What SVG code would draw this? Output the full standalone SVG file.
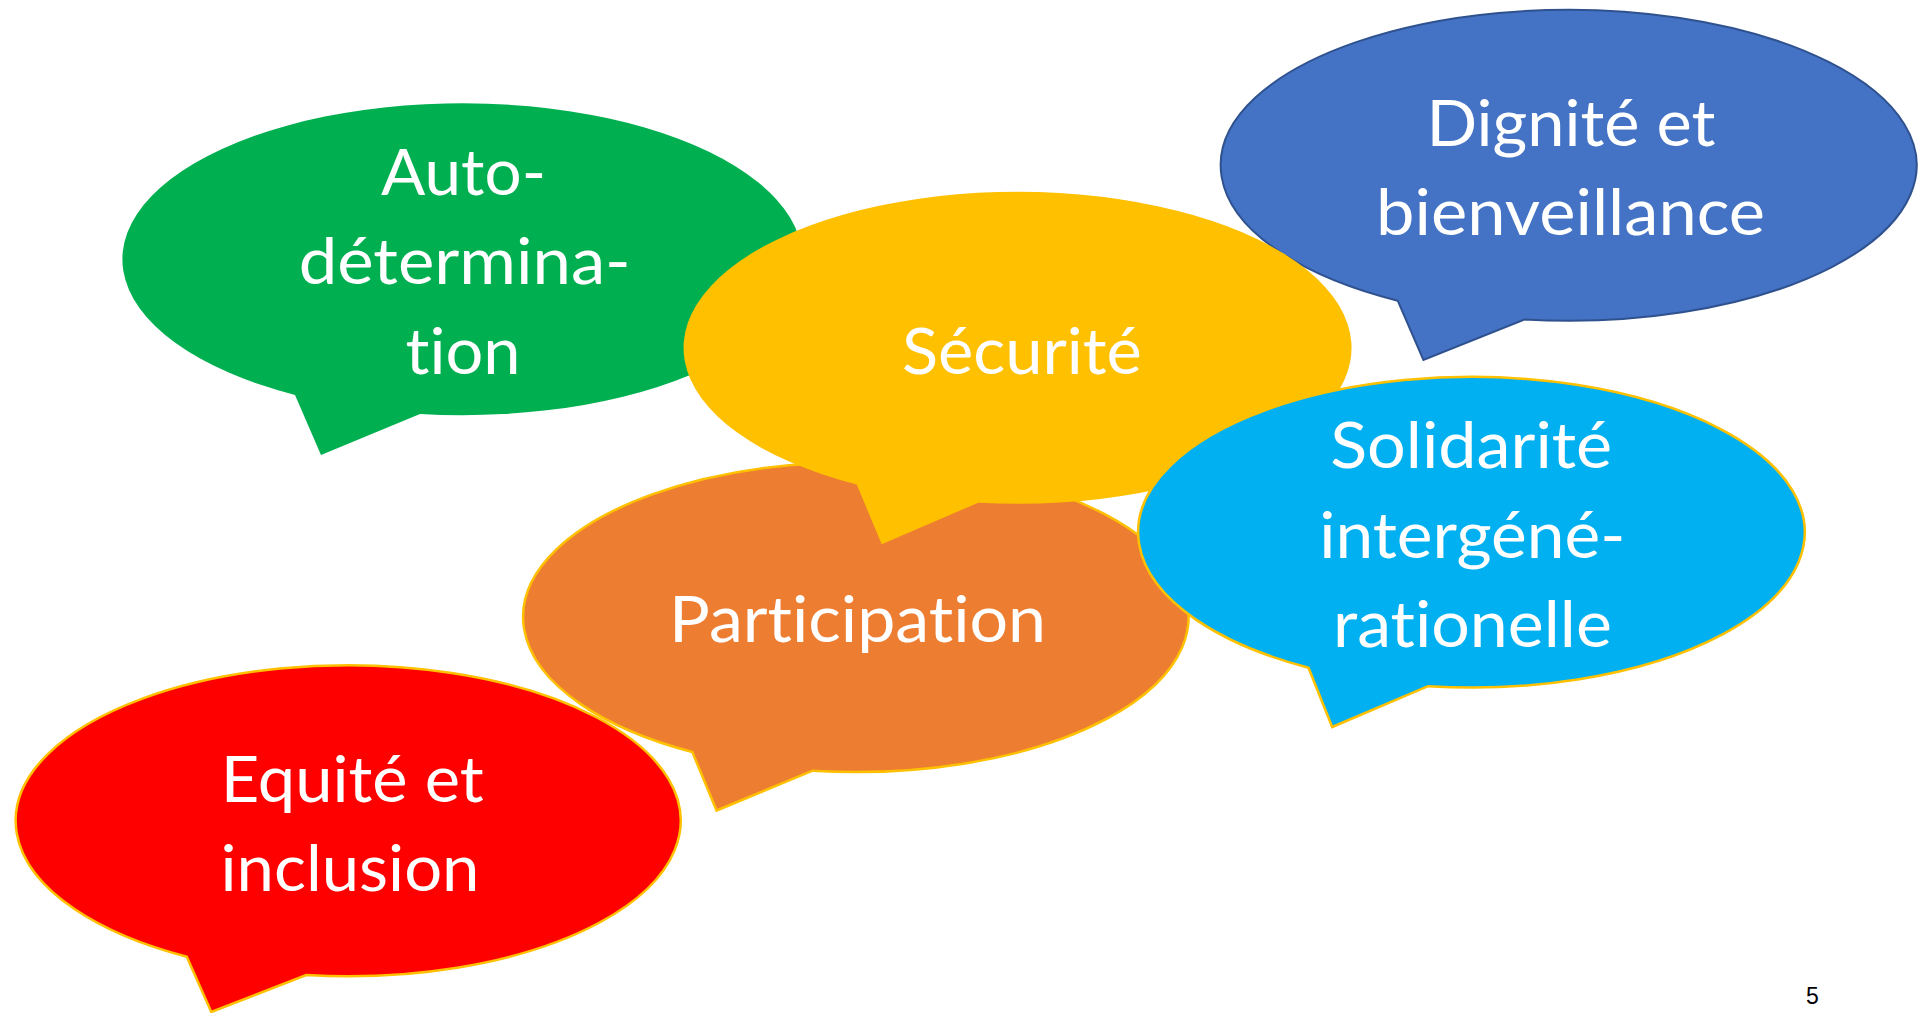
<svg xmlns="http://www.w3.org/2000/svg" width="1918" height="1013" viewBox="0 0 1918 1013">
<style>
.lbl{font-family:Lato,"Open Sans","Noto Sans",sans-serif;font-size:64px;fill:#FFFFFF;text-anchor:middle;font-variant-ligatures:none;font-feature-settings:"liga" 0,"clig" 0,"dlig" 0}
.ys{stroke:#FFC000;stroke-width:2.5}
.pg{font-family:"Liberation Sans",Arial,sans-serif;font-size:23px;fill:#000000}
</style>
<rect x="0" y="0" width="1918" height="1013" fill="#FFFFFF"/>
<g id="connectors"/>
<g id="node-autodetermination">
<path d="M295,395 L321,455 L420,414 A340,156 0 1 0 295,395 Z" fill="#00B050"/>
<text class="lbl" x="463.5" y="194.7" textLength="165" lengthAdjust="spacingAndGlyphs">Auto-</text>
<text class="lbl" x="464.7" y="284.3" textLength="332" lengthAdjust="spacingAndGlyphs">détermina-</text>
<text class="lbl" x="463" y="374" textLength="115" lengthAdjust="spacingAndGlyphs">tion</text>
</g>
<g id="node-dignite">
<path d="M1397.7,300.7 L1423.4,360 L1524.4,319.5 A348,155.5 0 1 0 1397.7,300.7 Z" fill="#4472C4" stroke="#2F528F" stroke-width="2"/>
<text class="lbl" x="1571" y="145.7" textLength="289" lengthAdjust="spacingAndGlyphs">Dignité et</text>
<text class="lbl" x="1570.6" y="235" textLength="389" lengthAdjust="spacingAndGlyphs">bienveillance</text>
</g>
<g id="node-participation">
<path class="ys" d="M692.3,752 L716.6,810.5 L812.6,770.7 A332.7,155 0 1 0 692.3,752 Z" fill="#ED7D31"/>
<text class="lbl" x="857.6" y="641.7" textLength="377" lengthAdjust="spacingAndGlyphs">Participation</text>
</g>
<g id="node-securite">
<path d="M856.7,484.5 L881.7,544.3 L978.3,502.7 A334,156 0 1 0 856.7,484.5 Z" fill="#FFC000"/>
<text class="lbl" x="1021.9" y="374.3" textLength="240" lengthAdjust="spacingAndGlyphs">Sécurité</text>
</g>
<g id="node-solidarite">
<path class="ys" d="M1308.5,667.7 L1332.2,727 L1428,686.2 A333.3,155.3 0 1 0 1308.5,667.7 Z" fill="#00B0F0"/>
<text class="lbl" x="1471.2" y="468.4" textLength="282" lengthAdjust="spacingAndGlyphs">Solidarité</text>
<text class="lbl" x="1472.3" y="557.7" textLength="306" lengthAdjust="spacingAndGlyphs">intergéné-</text>
<text class="lbl" x="1472.4" y="647" textLength="279" lengthAdjust="spacingAndGlyphs">rationelle</text>
</g>
<g id="node-equite">
<path class="ys" d="M186.8,956.7 L211.3,1012 L306.2,975 A332.5,155.5 0 1 0 186.8,956.7 Z" fill="#FF0000"/>
<text class="lbl" x="352.2" y="801.7" textLength="263" lengthAdjust="spacingAndGlyphs">Equité et</text>
<text class="lbl" x="350" y="891" textLength="259" lengthAdjust="spacingAndGlyphs">inclusion</text>
</g>
<g id="page-number">
<text class="pg" x="1806" y="1004">5</text>
</g>
</svg>
